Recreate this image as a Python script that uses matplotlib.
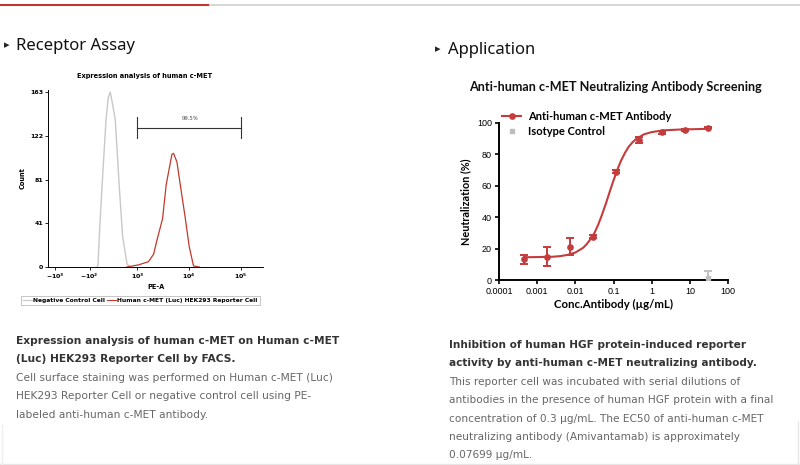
import numpy as np
import matplotlib.pyplot as plt
from matplotlib.lines import Line2D

# ---- histogram (FACS) data ----
neg_pe = [10, 25, 44, 85, 147, 185, 220, 260, 314, 400, 482, 606, 700]
neg_count = [0, 2, 29, 75, 137, 158, 163, 152, 137, 75, 29, 3, 0]
pos_pe = [600, 1060, 1670, 2100, 2440, 3130, 3690, 4750, 5100, 5930, 6870, 8570, 10240, 12400, 16000]
pos_count = [0, 2, 5, 12, 25, 45, 77, 105, 106, 98, 77, 46, 19, 1, 0]
hist_yticks = [0, 41, 81, 122, 163]
hist_xticks = [-1e3, -1e2, 1e3, 1e4, 1e5]
hist_xlabels = [r'$\mathbf{-10^{3}}$', r'$\mathbf{-10^{2}}$', r'$\mathbf{10^{3}}$',
                r'$\mathbf{10^{4}}$', r'$\mathbf{10^{5}}$']
gate_lo, gate_hi, gate_y = 1e3, 1e5, 130
gate_label = '99.5%'

# ---- neutralization data ----
conc = [0.000458, 0.00183, 0.00732, 0.0293, 0.117, 0.469, 1.875, 7.5, 30]
neut = [13.2, 14.8, 21.2, 27.5, 69.0, 89.0, 94.0, 95.5, 97.0]
neut_err = [3.0, 6.0, 5.5, 1.0, 1.0, 2.0, 1.0, 0.5, 0.5]
iso_conc = [30]
iso_neut = [1.0]
iso_err = [5.0]
fit_conc = [0.00046, 0.001, 0.0025, 0.004, 0.0063, 0.01, 0.016, 0.02, 0.025, 0.032,
            0.04, 0.05, 0.063, 0.079, 0.1, 0.126, 0.158, 0.2, 0.25, 0.32, 0.4, 0.63,
            1.0, 2.0, 5.0, 30]
fit_neut = [14.5, 14.6, 14.8, 15.2, 16.0, 17.5, 20.5, 22.9, 26.1, 30.2,
            35.4, 41.6, 48.6, 56.0, 63.4, 70.2, 76.1, 81.0, 84.9, 87.9, 90.0, 92.8,
            94.2, 95.3, 95.8, 96.3]
xticks_r = [0.0001, 0.001, 0.01, 0.1, 1, 10, 100]
xlabels_r = ['0.0001', '0.001', '0.01', '0.1', '1', '10', '100']

W, H = 800, 465
RED = '#c43c3c'
fig = plt.figure(figsize=(8, 4.65), dpi=100)
fig.patch.set_facecolor('white')


def fx(px):
    return px / W


def fy(py):
    return 1 - py / H


# page decorations
fig.add_artist(Line2D([0, fx(800)], [fy(5), fy(5)], color='#d0d0d0', lw=1.2))
fig.add_artist(Line2D([0, fx(208)], [fy(5), fy(5)], color='#c0392b', lw=1.5))
fig.add_artist(Line2D([0, 1], [fy(463.5), fy(463.5)], color='#e6e6e6', lw=1))
fig.add_artist(Line2D([fx(2), fx(2)], [fy(425), fy(465)], color='#eeeeee', lw=1))
fig.add_artist(Line2D([fx(797.5), fx(797.5)], [fy(422), fy(465)], color='#e6e6e6', lw=1))

fig.text(fx(4), fy(45), '\u25b8', fontsize=8, color='#222222', va='center', family='DejaVu Sans')
fig.text(fx(16), fy(46), 'Receptor Assay', fontsize=12, color='#111111', va='center', family='Noto Sans')
fig.text(fx(435), fy(49), '\u25b8', fontsize=8, color='#222222', va='center', family='DejaVu Sans')
fig.text(fx(448), fy(50), 'Application', fontsize=12, color='#111111', va='center', family='Noto Sans')

# ---- left: FACS histogram ----
ax1 = fig.add_axes([fx(48), fy(267), fx(215), 177 / H])
fwd = lambda x: np.arcsinh(np.asarray(x) / 333.0)
inv = lambda y: 333.0 * np.sinh(np.asarray(y))
ax1.set_xscale('function', functions=(fwd, inv))
ax1.plot(neg_pe, neg_count, color='#c8c8c8', lw=1.0)
ax1.plot(pos_pe, pos_count, color='#c0392b', lw=0.9)
ax1.set_xlim(-1400, 2.7e5)
ax1.set_ylim(0, 165)
ax1.set_yticks(hist_yticks)
ax1.set_yticklabels([str(v) for v in hist_yticks], fontsize=4.5, fontweight='bold')
ax1.set_xticks(hist_xticks)
ax1.set_xticklabels(hist_xlabels, fontsize=4.5)
ax1.minorticks_off()
ax1.tick_params(length=2, width=0.6, pad=1.5)
for s in ['top', 'right']:
    ax1.spines[s].set_visible(False)
ax1.spines['left'].set_linewidth(0.7)
ax1.spines['bottom'].set_linewidth(0.7)
ax1.spines['bottom'].set_linestyle((0, (2, 1)))
ax1.set_ylabel('Count', fontsize=4.8, fontweight='bold', labelpad=3)
ax1.set_xlabel('PE-A', fontsize=4.8, fontweight='bold', labelpad=2)
ax1.set_title('Expression analysis of human c-MET', fontsize=4.8, fontweight='bold', pad=9, x=0.45)

# gate bracket
ax1.plot([gate_lo, gate_hi], [gate_y, gate_y], color='#333333', lw=0.8)
ax1.plot([gate_lo, gate_lo], [gate_y - 10, gate_y + 10], color='#333333', lw=0.8)
ax1.plot([gate_hi, gate_hi], [gate_y - 10, gate_y + 10], color='#333333', lw=0.8)
ax1.text(np.sqrt(gate_lo * gate_hi) * 1.05, gate_y + 8, gate_label, fontsize=3.8,
         family='DejaVu Serif', ha='center', va='center', color='#333333')

h_neg = Line2D([], [], color='#c8c8c8', lw=0.8)
h_pos = Line2D([], [], color='#c0392b', lw=0.8)
leg1 = ax1.legend([h_neg, h_pos], ['Negative Control Cell', 'Human c-MET (Luc) HEK293 Reporter Cell'],
                  loc='upper center', bbox_to_anchor=(0.43, -0.145), ncol=2,
                  prop={'weight': 'bold', 'size': 4.3}, frameon=True, fancybox=False,
                  edgecolor='#aaaaaa', handlelength=1.4, handletextpad=0.3,
                  columnspacing=0.3, borderpad=0.35)
leg1.get_frame().set_linewidth(0.6)

# ---- right: neutralization curve ----
ax2 = fig.add_axes([fx(499), fy(280), fx(229), 157 / H])
ax2.set_xscale('log')
ax2.plot(fit_conc, fit_neut, color=RED, lw=1.5, zorder=3)
ax2.errorbar(conc, neut, yerr=neut_err, fmt='o', color=RED, ms=3.8, elinewidth=1.4,
             capsize=3.2, capthick=1.4, zorder=4)
ax2.errorbar(iso_conc, iso_neut, yerr=iso_err, fmt='s', color='#bdbdbd', ms=3.5,
             elinewidth=1.3, capsize=3.2, capthick=1.3, zorder=4)
ax2.set_xlim(1e-4, 1e2)
ax2.set_ylim(0, 100)
ax2.set_xticks(xticks_r)
ax2.set_xticklabels(xlabels_r, fontsize=6.5, family='Liberation Sans')
ax2.set_yticks([0, 20, 40, 60, 80, 100])
ax2.set_yticklabels(['0', '20', '40', '60', '80', '100'], fontsize=6.5, family='Liberation Sans')
ax2.tick_params(which='major', length=3, width=1.2, pad=2)
ax2.tick_params(which='minor', length=1.8, width=0.8)
for s in ['top', 'right']:
    ax2.spines[s].set_visible(False)
for s in ['left', 'bottom']:
    ax2.spines[s].set_linewidth(1.4)
ax2.set_ylabel('Neutralization (%)', fontsize=7.8, fontweight='bold', family='Lato', labelpad=4)
ax2.set_xlabel('Conc.Antibody (\u00b5g/mL)', fontsize=8.2, fontweight='bold', family='Lato', labelpad=2)
fig.text(fx(615), fy(87), 'Anti-human c-MET Neutralizing Antibody Screening', fontsize=9.1,
         fontweight='bold', family='Lato', ha='center', va='center', color='#111111')

h_ab = Line2D([], [], color=RED, lw=1.5, marker='o', ms=3.8)
h_iso = Line2D([], [], color='#bdbdbd', lw=0, marker='s', ms=3.5)
ax2.legend([h_ab, h_iso], ['Anti-human c-MET Antibody', 'Isotype Control'],
           loc='upper left', bbox_to_anchor=(-0.01, 1.11), frameon=False,
           prop={'family': 'Lato', 'weight': 'bold', 'size': 8.0},
           handlelength=1.7, handletextpad=0.6, labelspacing=0.35, borderpad=0)

# ---- captions ----
left_bold = ['Expression analysis of human c-MET on Human c-MET',
             '(Luc) HEK293 Reporter Cell by FACS.']
left_body = ['Cell surface staining was performed on Human c-MET (Luc)',
             'HEK293 Reporter Cell or negative control cell using PE-',
             'labeled anti-human c-MET antibody.']
right_bold = ['Inhibition of human HGF protein-induced reporter',
              'activity by anti-human c-MET neutralizing antibody.']
right_body = ['This reporter cell was incubated with serial dilutions of',
              'antibodies in the presence of human HGF protein with a final',
              'concentration of 0.3 \u00b5g/mL. The EC50 of anti-human c-MET',
              'neutralizing antibody (Amivantamab) is approximately',
              '0.07699 \u00b5g/mL.']

step = 18.4
for i, line in enumerate(left_bold + left_body):
    bold = i < len(left_bold)
    fig.text(fx(16), fy(341 + i * step), line, fontsize=7.7, family='DejaVu Sans',
             fontweight='bold' if bold else 'normal', color='#333333' if bold else '#666666',
             va='center')
for i, line in enumerate(right_bold + right_body):
    bold = i < len(right_bold)
    fig.text(fx(449), fy(345 + i * step), line, fontsize=7.6, family='DejaVu Sans',
             fontweight='bold' if bold else 'normal', color='#333333' if bold else '#666666',
             va='center')

fig.savefig('out.png', dpi=100, facecolor='white')
